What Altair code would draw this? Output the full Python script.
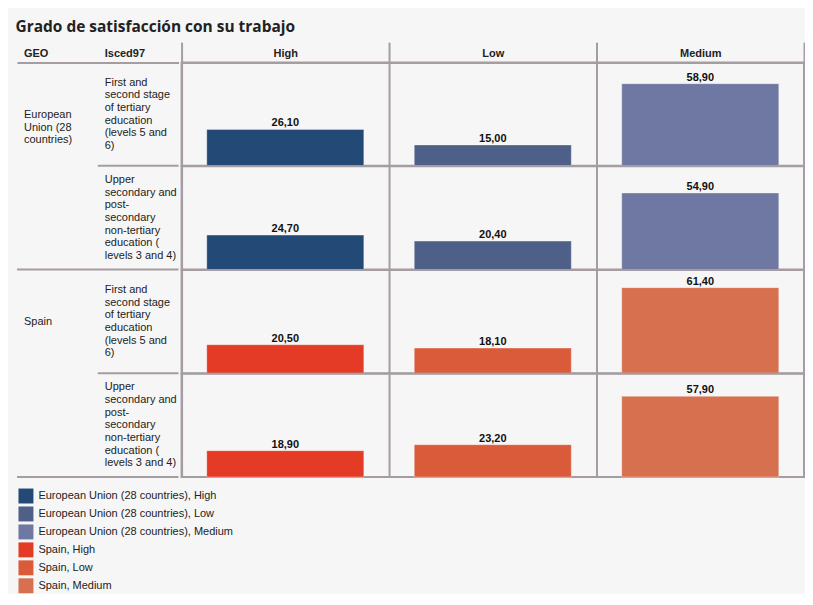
import altair as alt
import pandas as pd

# ---- data ----
geo_names = ["European Union (28 countries)", "Spain"]
geo_wrapped = ["European\nUnion (28\ncountries)", "Spain"]
isced_names = [
    "First and second stage of tertiary education (levels 5 and 6)",
    "Upper secondary and post-secondary non-tertiary education ( levels 3 and 4)",
]
isced_wrapped = [
    "First and\nsecond stage\nof tertiary\neducation\n(levels 5 and\n6)",
    "Upper\nsecondary and\npost-\nsecondary\nnon-tertiary\neducation (\nlevels 3 and 4)",
]
levels = ["High", "Low", "Medium"]
header_left = ["GEO", "Isced97"]

eu_high = [26.10, 24.70]
eu_low = [15.00, 20.40]
eu_medium = [58.90, 54.90]
es_high = [20.50, 18.90]
es_low = [18.10, 23.20]
es_medium = [61.40, 57.90]

series_colors = ["#234a76", "#4f6088", "#6f78a3", "#e33b25", "#da5b3a", "#d6704f"]

values = {
    (0, "High"): eu_high, (0, "Low"): eu_low, (0, "Medium"): eu_medium,
    (1, "High"): es_high, (1, "Low"): es_low, (1, "Medium"): es_medium,
}

series = [f"{g}, {lv}" for g in geo_names for lv in levels]

rows = []
left_rows = []
r = 0
for gi, g in enumerate(geo_names):
    for ii, isc in enumerate(isced_names):
        for lv in levels:
            v = values[(gi, lv)][ii]
            rows.append({
                "row": r, "geo": g, "isced": isc, "level": lv, "value": v,
                "series": f"{g}, {lv}",
                "label": f"{v:.2f}".replace(".", ","),
            })
        left_rows.append({
            "row": r,
            "gcol": "GEO",
            "icol": "Isced97",
            "geo_text": geo_wrapped[gi] if ii == 0 else "",
            "isced_text": isced_wrapped[ii],
            "line_start": "Isced97" if ii < len(isced_names) - 1 else "GEO",
        })
        r += 1

df = pd.DataFrame(rows)
df_left = pd.DataFrame(left_rows)

GRID = "#a59da1"
TXT = "#222222"
FONT = "Liberation Sans"
ROW_H = 103.5
HDR = 20.5
LEFT_W = 162
RIGHT_W = 624
LH = 12.7

# ---- left label panel ----
xl_scale = alt.Scale(domain=header_left, paddingInner=0, paddingOuter=0)
xl_axis = alt.Axis(
    orient="top", title=None, labelAngle=0, labelAlign="left", labelOffset=-33.5,
    labelBaseline="middle", labelPadding=-11.5, tickSize=HDR, tickColor="transparent",
    domainColor=GRID, domainWidth=2, grid=False, labelFont=FONT, labelFontSize=11,
    labelFontWeight="bold", labelColor=TXT,
)

geo_txt = alt.Chart().mark_text(
    align="left", baseline="top", dx=-33.5, lineBreak="\n", lineHeight=LH,
    font=FONT, fontSize=11, color=TXT,
).encode(
    x=alt.X("gcol:N", scale=xl_scale, axis=xl_axis),
    y=alt.value(46.5),
    text="geo_text:N",
)
isc_txt = alt.Chart().mark_text(
    align="left", baseline="middle", dx=-33.5, lineBreak="\n", lineHeight=LH,
    font=FONT, fontSize=11, color=TXT,
    dy={"expr": f"-(length(split(datum.isced_text, '\\n')) - 1) * {LH} / 2"},
).encode(
    x=alt.X("icol:N", scale=xl_scale, axis=xl_axis),
    y=alt.value(ROW_H / 2),
    text="isced_text:N",
)
rules = alt.Chart().mark_rule(color=GRID, strokeWidth=2).encode(
    x=alt.X("line_start:N", scale=xl_scale, axis=xl_axis, bandPosition=0),
    x2=alt.value(LEFT_W),
    y=alt.value(ROW_H),
)

left = alt.layer(geo_txt, isc_txt, rules, data=df_left).properties(
    width=LEFT_W, height=ROW_H, view=alt.ViewBackground(stroke="transparent")
).facet(
    row=alt.Row("row:O", header=alt.Header(labels=False, title=None)),
    spacing=0, bounds="flush",
)

# ---- right bar panel ----
xr_scale = alt.Scale(domain=levels, paddingInner=0, paddingOuter=0)
xr_axis = alt.Axis(
    orient="top", title=None, labelAngle=0, tickBand="extent", tickSize=HDR,
    tickWidth=2, tickColor=GRID, domainColor=GRID, domainWidth=2, grid=True,
    gridColor=GRID, gridWidth=2, labelPadding=-11.5, labelBaseline="middle",
    labelFont=FONT, labelFontSize=11, labelFontWeight="bold", labelColor=TXT,
)
y_scale = alt.Scale(domain=[0, 74])

bars = alt.Chart().mark_bar(
    width={"band": 0.757}, stroke="#ffffff", strokeOpacity=0.35, strokeWidth=1,
).encode(
    x=alt.X("level:N", scale=xr_scale, axis=xr_axis),
    y=alt.Y("value:Q", scale=y_scale, axis=None),
    color=alt.Color(
        "series:N",
        scale=alt.Scale(domain=series, range=series_colors),
        legend=alt.Legend(
            orient="none", legendX=1.5, legendY=427, title=None, direction="vertical",
            symbolType="square", symbolSize=225, symbolStrokeWidth=0, symbolOpacity=1,
            labelFont=FONT, labelFontSize=11, labelColor=TXT, labelOffset=5,
            rowPadding=3, padding=0, labelLimit=400,
        ),
    ),
)
vals = alt.Chart().mark_text(
    baseline="bottom", dy=-1, font=FONT, fontSize=11, fontWeight="bold", color="#111111",
).encode(
    x=alt.X("level:N", scale=xr_scale, axis=xr_axis),
    y=alt.Y("value:Q", scale=y_scale, axis=None),
    text="label:N",
)

right = alt.layer(bars, vals, data=df).properties(
    width=RIGHT_W, height=ROW_H, view=alt.ViewBackground(stroke=GRID, strokeWidth=2)
).facet(
    row=alt.Row("row:O", header=alt.Header(labels=False, title=None)),
    spacing=0, bounds="flush",
)

chart = alt.hconcat(left, right, spacing=0).properties(
    title=alt.TitleParams(
        "Grado de satisfacción con su trabajo", anchor="start", font="Open Sans",
        fontSize=15.5, fontWeight="bold", color=TXT, offset=8, dy=2,
    ),
    padding={"left": 7, "top": 11, "right": 0, "bottom": 0},
).configure(background="#f6f6f6").configure_view(stroke="transparent")

chart.save("out.html", embed_options={"renderer": "svg", "actions": False})
